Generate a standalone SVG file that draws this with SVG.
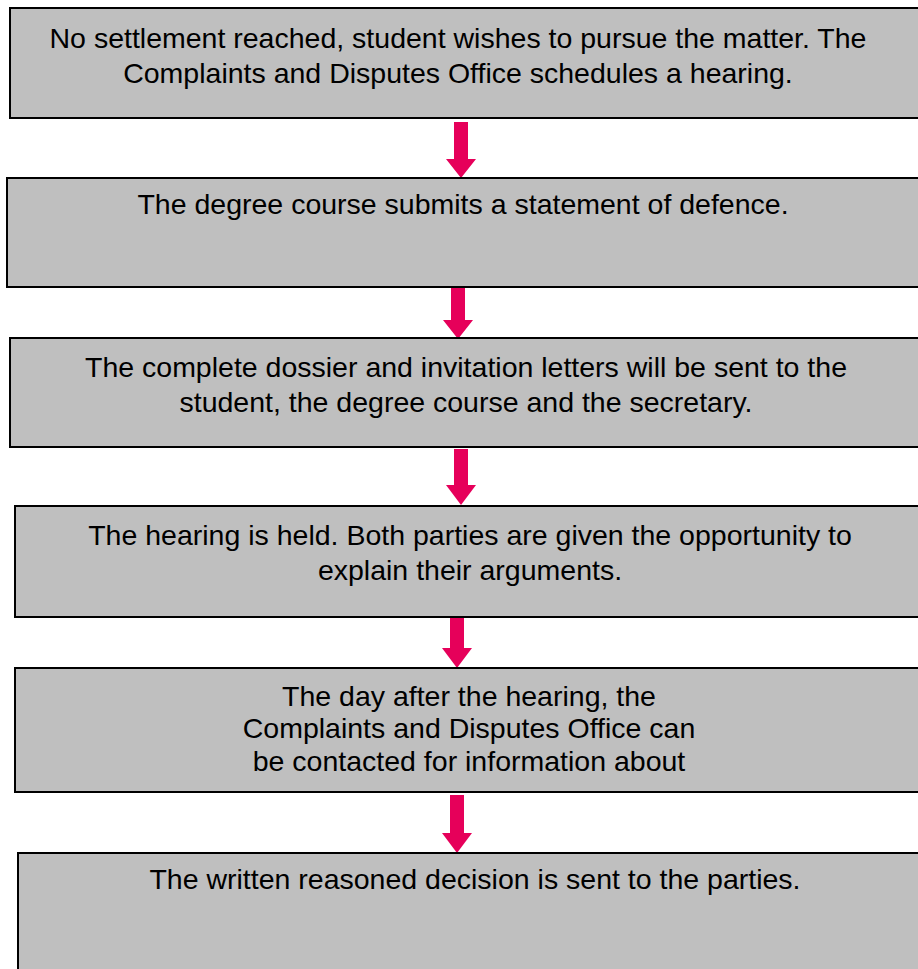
<svg xmlns="http://www.w3.org/2000/svg" width="918" height="969" viewBox="0 0 918 969">
<defs>
<style>
.box{fill:#bfbfbf;stroke:#000;stroke-width:2}
.t{font-family:"Liberation Sans",Arial,sans-serif;font-size:28.5px;fill:#000;text-anchor:middle}
.arr{fill:#e6005a}
</style>
</defs>
<rect width="918" height="969" fill="#fff"/>
<g id="connectors">
<polygon class="arr" points="454,122 468,122 468,159 476,159 461,178 446,159 454,159"/>
<polygon class="arr" points="451,288 465,288 465,320 473,320 458,339 443,320 451,320"/>
<polygon class="arr" points="454,449 468,449 468,485 476,485 461,505 446,485 454,485"/>
<polygon class="arr" points="450,617 464,617 464,648 472,648 457,668 442,648 450,648"/>
<polygon class="arr" points="450,795 464,795 464,833 472,833 457,853 442,833 450,833"/>
</g>
<g id="n1"><rect class="box" x="10" y="8" width="920" height="110"/>
<text class="t" x="458" y="48">No settlement reached, student wishes to pursue the matter. The</text>
<text class="t" x="458" y="83">Complaints and Disputes Office schedules a hearing.</text></g>
<g id="n2"><rect class="box" x="7" y="178" width="920" height="109"/>
<text class="t" x="463" y="214">The degree course submits a statement of defence.</text></g>
<g id="n3"><rect class="box" x="10" y="338" width="920" height="109"/>
<text class="t" x="466" y="377">The complete dossier and invitation letters will be sent to the</text>
<text class="t" x="466" y="412">student, the degree course and the secretary.</text></g>
<g id="n4"><rect class="box" x="15" y="506" width="920" height="111"/>
<text class="t" x="470" y="545">The hearing is held. Both parties are given the opportunity to</text>
<text class="t" x="470" y="580">explain their arguments.</text></g>
<g id="n5"><rect class="box" x="15" y="668" width="920" height="124"/>
<text class="t" x="469" y="706">The day after the hearing, the</text>
<text class="t" x="469" y="738">Complaints and Disputes Office can</text>
<text class="t" x="469" y="771">be contacted for information about</text></g>
<g id="n6"><rect class="box" x="18" y="853" width="920" height="130"/>
<text class="t" x="475" y="889">The written reasoned decision is sent to the parties.</text></g>
</svg>
